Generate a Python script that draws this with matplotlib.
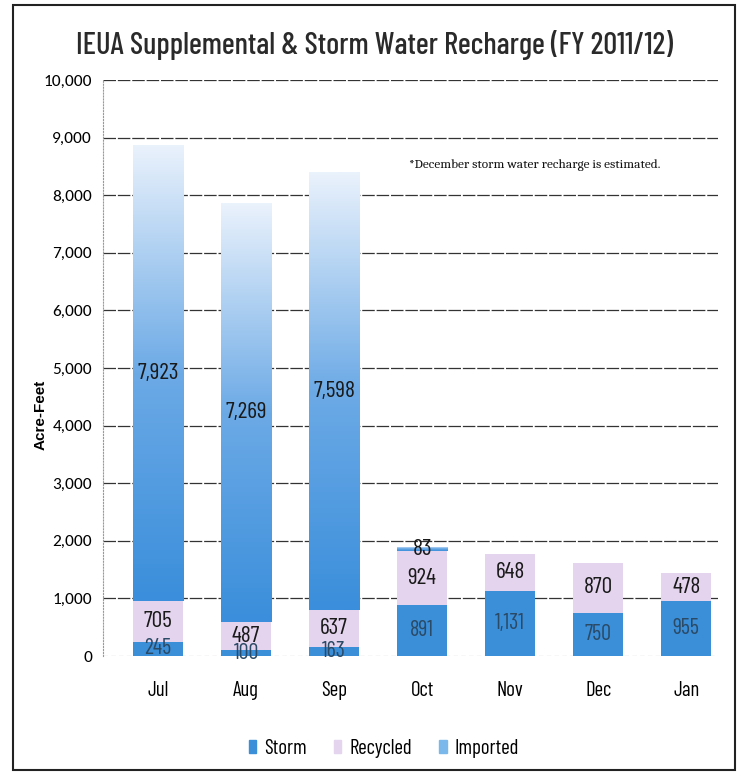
import matplotlib
matplotlib.use("Agg")
import matplotlib.pyplot as plt
import numpy as np
from matplotlib.patches import Rectangle, Patch
from matplotlib.colors import LinearSegmentedColormap

months = ["Jul", "Aug", "Sep", "Oct", "Nov", "Dec", "Jan"]
storm = [245, 100, 163, 891, 1131, 750, 955]
recycled = [705, 487, 637, 924, 648, 870, 478]
imported = [7923, 7269, 7598, 83, 0, 0, 0]
yticks = list(range(0, 10001, 1000))

narrow = ["Barlow Condensed", "DejaVu Sans"]
calib = ["Carlito", "DejaVu Sans"]

fig = plt.figure(figsize=(7.42, 7.76), dpi=100)
fig.patch.set_facecolor("white")
fig.patches.append(Rectangle((13/742, 1-770/776), 722/742, 765/776, transform=fig.transFigure,
                             fill=False, edgecolor="#222222", linewidth=1.5))

ax = fig.add_axes([103/742, 1-656/776, 615/742, 576/776])
x = np.arange(len(months))
w = 0.57

c_storm = "#3b8ed8"
c_rec = "#e4d4ee"

for v in yticks[1:]:
    ax.axhline(v, color="#333333", linewidth=0.9, linestyle=(0, (10, 1.5)), zorder=0)

b1 = ax.bar(x, storm, w, color=c_storm, zorder=2)
b2 = ax.bar(x, recycled, w, bottom=storm, color=c_rec, zorder=2)
bottom3 = np.array(storm) + np.array(recycled)
b3 = ax.bar(x, imported, w, bottom=bottom3, color="none", zorder=2)

grad = np.linspace(0, 1, 256).reshape(-1, 1)
cmap = LinearSegmentedColormap.from_list("imp", ["#3a8edb", "#6caae6", "#eaf2fc"])
for rect in b3:
    if rect.get_height() <= 0:
        continue
    x0, y0 = rect.get_x(), rect.get_y()
    wd, ht = rect.get_width(), rect.get_height()
    im = ax.imshow(grad, extent=[x0, x0 + wd, y0, y0 + ht], origin="lower",
                   aspect="auto", cmap=cmap, zorder=2)
    im.set_clip_path(rect)

for i in range(len(months)):
    if storm[i] > 0:
        ax.text(x[i], storm[i] / 2, f"{storm[i]:,}", ha="center", va="center",
                fontsize=16, family=narrow, color="#2b4a66", zorder=5)
    if recycled[i] > 0:
        ax.text(x[i], storm[i] + recycled[i] / 2, f"{recycled[i]:,}", ha="center", va="center",
                fontsize=17, family=narrow, color="#1a1a1a", zorder=5)
    if imported[i] > 0:
        ax.text(x[i], bottom3[i] + imported[i] / 2, f"{imported[i]:,}", ha="center", va="center",
                fontsize=17, family=narrow, color="#1a1a1a", zorder=5)

ax.set_xlim(-0.625, 6.36)
ax.set_ylim(0, 10000)
ax.set_yticks(yticks)
ax.set_yticklabels([f"{v:,}" for v in yticks], fontsize=12.5, family=calib)
ax.set_xticks(x)
ax.set_xticklabels(months, fontsize=15, family=narrow)
ax.tick_params(axis="y", length=0, pad=8)
ax.tick_params(axis="x", length=0, pad=18)
for s in ["top", "right", "bottom"]:
    ax.spines[s].set_visible(False)
ax.spines["left"].set_color("#999999")
ax.spines["left"].set_linestyle(":")
ax.axhline(0, color="#777777", linewidth=0.8, linestyle=(0, (4, 3)), zorder=1)

ax.set_ylabel("Acre-Feet", fontsize=11, fontweight="bold", family=["Liberation Sans", "DejaVu Sans"])
ax.yaxis.set_label_coords(-0.09, 0.418)

fig.text(374/742, 1 - 45/776, "IEUA Supplemental & Storm Water Recharge (FY 2011/12)",
         ha="center", va="center", fontsize=22, family=narrow, fontweight=500, color="#2a2a2a")

ax.text(4.28, 8520, "*December storm water recharge is estimated.", ha="center", va="center",
        fontsize=9.5, family=["Caladea", "DejaVu Serif"], color="#111111")

handles = [Patch(color=c_storm), Patch(color=c_rec), Patch(color="#7ab8ec")]
fig.legend(handles, ["Storm", "Recycled", "Imported"], loc="center",
           bbox_to_anchor=(384/742, 1 - 748/776), ncol=3, frameon=False,
           prop={"family": narrow, "size": 15}, handlelength=0.35, handleheight=0.6,
           handletextpad=0.4, columnspacing=1.3)

fig.savefig("out.png", dpi=100)
